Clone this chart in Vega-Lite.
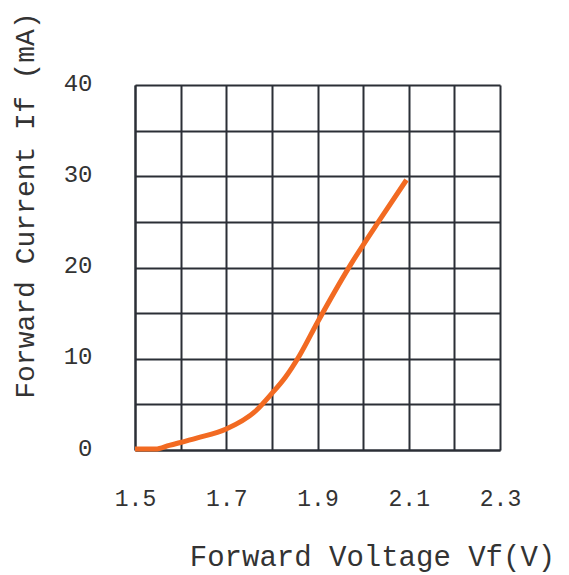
{
  "$schema": "https://vega.github.io/schema/vega-lite/v6.json",
  "autosize": "none",
  "width": 365,
  "height": 365,
  "padding": {"left": 135, "top": 85, "right": 69, "bottom": 125},
  "background": "white",
  "config": {
    "view": {"stroke": null},
    "axis": {
      "labelFont": "Liberation Mono",
      "titleFont": "Liberation Mono",
      "labelColor": "#333333",
      "titleColor": "#333333",
      "titleFontWeight": "normal",
      "gridColor": "#2b2f36",
      "gridOpacity": 1,
      "gridWidth": 2,
      "domainColor": "#2b2f36",
      "domainWidth": 2,
      "ticks": false
    }
  },
  "data": {
    "values": [
      {"voltage": 1.50, "current": 0.1},
      {"voltage": 1.545, "current": 0.1},
      {"voltage": 1.575, "current": 0.5},
      {"voltage": 1.635, "current": 1.3},
      {"voltage": 1.70, "current": 2.3},
      {"voltage": 1.765, "current": 4.3},
      {"voltage": 1.80, "current": 6.2},
      {"voltage": 1.83, "current": 8.0},
      {"voltage": 1.86, "current": 10.3},
      {"voltage": 1.90, "current": 14.0},
      {"voltage": 1.97, "current": 20.1},
      {"voltage": 2.04, "current": 25.5},
      {"voltage": 2.095, "current": 29.6}
    ]
  },
  "mark": {"type": "line", "color": "#F26A22", "strokeWidth": 5, "interpolate": "monotone", "strokeCap": "butt"},
  "encoding": {
    "x": {
      "field": "voltage",
      "type": "quantitative",
      "scale": {"domain": [1.5, 2.3], "nice": false, "zero": false},
      "axis": {
        "title": "Forward Voltage Vf(V)",
        "values": [1.5, 1.6, 1.7, 1.8, 1.9, 2.0, 2.1, 2.2, 2.3],
        "format": ".1f",
        "labelExpr": "indexof(['1.5','1.7','1.9','2.1','2.3'], datum.label) >= 0 ? datum.label : ''",
        "labelFontSize": 23,
        "labelPadding": 37,
        "labelFlush": false,
        "titleFontSize": 29,
        "titleX": 237,
        "titleY": 115,
        "titleAlign": "center",
        "titleBaseline": "alphabetic",
        "grid": true
      }
    },
    "y": {
      "field": "current",
      "type": "quantitative",
      "scale": {"domain": [0, 40], "nice": false},
      "axis": {
        "title": "Forward Current If (mA)",
        "values": [0, 5, 10, 15, 20, 25, 30, 35, 40],
        "labelExpr": "datum.value % 10 == 0 ? datum.label : ''",
        "labelFontSize": 24,
        "labelPadding": 43,
        "labelFlush": false,
        "labelOffset": -2,
        "titleFontSize": 28,
        "titleX": -102,
        "titleY": 120,
        "titleAngle": -90,
        "titleAlign": "center",
        "titleBaseline": "alphabetic",
        "grid": true
      }
    }
  }
}
